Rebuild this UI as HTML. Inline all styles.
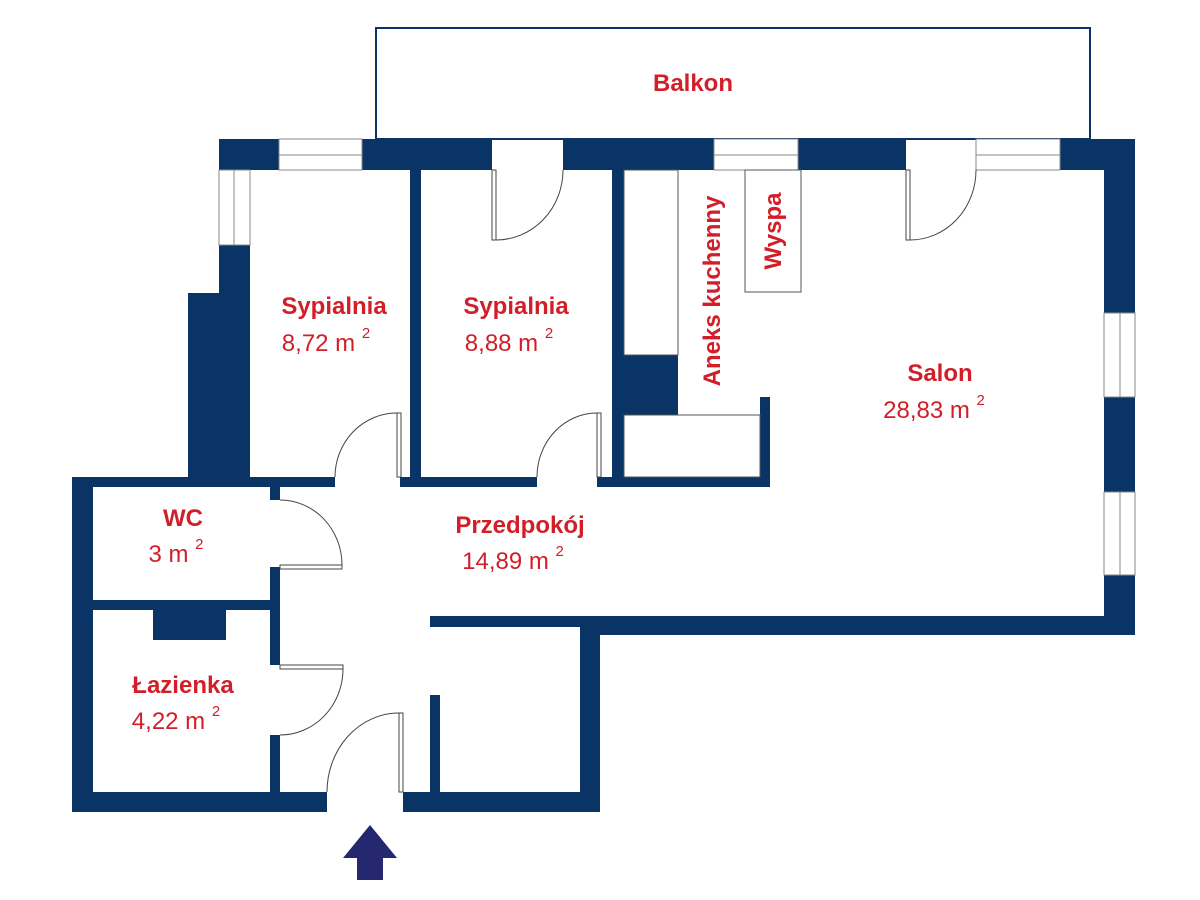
<!DOCTYPE html>
<html><head><meta charset="utf-8"><style>html,body{margin:0;padding:0;background:#fff}svg{display:block}</style></head>
<body>
<svg width="1200" height="900" viewBox="0 0 1200 900" xmlns="http://www.w3.org/2000/svg" font-family="Liberation Sans, sans-serif">
<rect width="1200" height="900" fill="#fff"/>
<rect x="376" y="28" width="714" height="111" fill="none" stroke="#0a3466" stroke-width="2"/>
<g fill="#0a3466">
<rect x="219" y="139" width="60" height="31"/>
<rect x="362" y="139" width="130" height="31"/>
<rect x="563" y="139" width="151" height="31"/>
<rect x="798" y="139" width="108" height="31"/>
<rect x="1060" y="139" width="75" height="31"/>
<rect x="1104" y="139" width="31" height="174"/>
<rect x="1104" y="397" width="31" height="95"/>
<rect x="1104" y="575" width="31" height="60"/>
<rect x="580" y="616" width="555" height="19"/>
<rect x="430" y="616" width="160" height="11"/>
<rect x="580" y="616" width="20" height="196"/>
<rect x="219" y="245" width="31" height="242"/>
<rect x="188" y="293" width="31" height="194"/>
<rect x="410" y="170" width="11" height="307"/>
<rect x="612" y="170" width="12" height="317"/>
<rect x="624" y="355" width="54" height="60"/>
<rect x="760" y="397" width="10" height="90"/>
<rect x="72" y="477" width="263" height="10"/>
<rect x="400" y="477" width="137" height="10"/>
<rect x="597" y="477" width="173" height="10"/>
<rect x="72" y="477" width="21" height="335"/>
<rect x="72" y="792" width="255" height="20"/>
<rect x="403" y="792" width="197" height="20"/>
<rect x="93" y="600" width="180" height="10"/>
<rect x="153" y="610" width="73" height="30"/>
<rect x="270" y="487" width="10" height="13"/>
<rect x="270" y="567" width="10" height="98"/>
<rect x="270" y="735" width="10" height="57"/>
<rect x="430" y="695" width="10" height="97"/>
</g>
<g fill="#fff" stroke="#888" stroke-width="1">
<rect x="279" y="139" width="83" height="31"/><line x1="279" y1="155" x2="362" y2="155"/>
<rect x="714" y="139" width="84" height="31"/><line x1="714" y1="155" x2="798" y2="155"/>
<rect x="976" y="139" width="84" height="31"/><line x1="976" y1="155" x2="1060" y2="155"/>
<rect x="219" y="170" width="31" height="75"/><line x1="234" y1="170" x2="234" y2="245"/>
<rect x="1104" y="313" width="31" height="84"/><line x1="1120" y1="313" x2="1120" y2="397"/>
<rect x="1104" y="492" width="31" height="83"/><line x1="1120" y1="492" x2="1120" y2="575"/>
</g>
<g fill="none" stroke="#555" stroke-width="1">
<rect x="624" y="170" width="54" height="185"/>
<rect x="624" y="415" width="136" height="62"/>
<rect x="745" y="170" width="56" height="122"/>
</g>
<g fill="none" stroke="#444" stroke-width="1">
<rect x="492" y="170" width="4" height="70"/><path d="M496 240 A67 70 0 0 0 563 170"/>
<rect x="906" y="170" width="4" height="70"/><path d="M910 240 A66 70 0 0 0 976 170"/>
<rect x="397" y="413" width="4" height="64"/><path d="M397 413 A62 64 0 0 0 335 477"/>
<rect x="597" y="413" width="4" height="64"/><path d="M597 413 A60 64 0 0 0 537 477"/>
<rect x="280" y="565" width="62" height="4"/><path d="M342 565 A62 65 0 0 0 280 500"/>
<rect x="280" y="665" width="63" height="4"/><path d="M343 669 A63 66 0 0 1 280 735"/>
<rect x="399" y="713" width="4" height="79"/><path d="M399 713 A72 79 0 0 0 327 792"/>
</g>
<polygon points="370,825 397,858 383,858 383,880 357,880 357,858 343,858" fill="#25286e"/>
<g fill="#d21e28" text-anchor="middle" font-size="24">
<text x="693" y="91" font-weight="bold">Balkon</text>
<text x="334" y="314" font-weight="bold">Sypialnia</text>
<text x="326" y="351">8,72 m <tspan font-size="15" dy="-13">2</tspan></text>
<text x="516" y="314" font-weight="bold">Sypialnia</text>
<text x="509" y="351">8,88 m <tspan font-size="15" dy="-13">2</tspan></text>
<text x="940" y="381" font-weight="bold">Salon</text>
<text x="934" y="418">28,83 m <tspan font-size="15" dy="-13">2</tspan></text>
<text x="520" y="533" font-weight="bold">Przedpokój</text>
<text x="513" y="569">14,89 m <tspan font-size="15" dy="-13">2</tspan></text>
<text x="183" y="526" font-weight="bold">WC</text>
<text x="176" y="562">3 m <tspan font-size="15" dy="-13">2</tspan></text>
<text x="183" y="693" font-weight="bold">Łazienka</text>
<text x="176" y="729">4,22 m <tspan font-size="15" dy="-13">2</tspan></text>
<text x="0" y="0" font-weight="bold" transform="translate(720,291) rotate(-90)">Aneks kuchenny</text>
<text x="0" y="0" font-weight="bold" transform="translate(781,231) rotate(-90)">Wyspa</text>
</g>
</svg>
</body></html>
